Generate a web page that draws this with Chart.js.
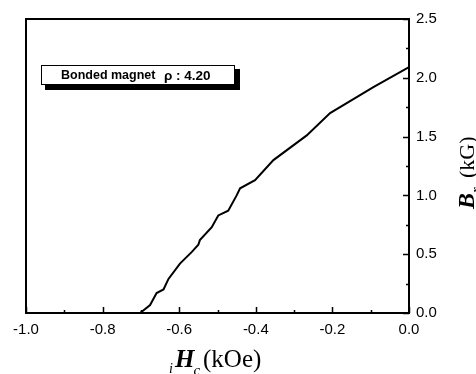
<!DOCTYPE html>
<html>
<head>
<meta charset="UTF-8">
<title>Bonded magnet demagnetization</title>
<script src="https://cdn.jsdelivr.net/npm/chart.js"></script>
<style>
  body { margin: 0; background: #fff; }
  canvas { display: block; }
</style>
</head>
<body>
<canvas id="bhChart" width="476" height="374"></canvas>
<script>
// curve: iHc (kOe) vs Br (kG)
const fieldH = [-0.702, -0.676, -0.659, -0.641, -0.628, -0.598, -0.567, -0.550, -0.546,
                -0.515, -0.498, -0.472, -0.450, -0.441, -0.402, -0.354, -0.267, -0.206,
                -0.093, 0.0];
const inductionB = [0.0, 0.068, 0.17, 0.20, 0.29, 0.42, 0.52, 0.58, 0.62,
                    0.73, 0.83, 0.87, 1.00, 1.06, 1.13, 1.30, 1.51, 1.70,
                    1.92, 2.09];
const xTicks = [-1.0, -0.8, -0.6, -0.4, -0.2, 0.0];
const yTicks = [0.0, 0.5, 1.0, 1.5, 2.0, 2.5];
const legendText = 'Bonded magnet';
const legendRho = '\u03C1 : 4.20';

const points = fieldH.map((h, i) => ({ x: h, y: inductionB[i] }));

function isLabelled(v, list) {
    return list.some(t => Math.abs(t - v) < 1e-6);
}

// frame, inward ticks, legend box and axis titles
const decor = {
    id: 'decor',
    afterDraw(chart) {
        const ctx = chart.ctx;
        const a = chart.chartArea;
        const xs = chart.scales.x, ys = chart.scales.y;
        ctx.save();
        ctx.strokeStyle = '#000';
        ctx.lineWidth = 2;
        ctx.strokeRect(a.left, a.top, a.right - a.left, a.bottom - a.top);

        ctx.lineWidth = 1.5;
        ctx.beginPath();
        xs.ticks.forEach(t => {
            const px = Math.round(xs.getPixelForValue(t.value)) + 0.5;
            const len = isLabelled(t.value, xTicks) ? 6 : 3;
            ctx.moveTo(px, a.bottom);
            ctx.lineTo(px, a.bottom - len);
        });
        ys.ticks.forEach(t => {
            const py = Math.round(ys.getPixelForValue(t.value)) + 0.5;
            const len = isLabelled(t.value, yTicks) ? 6 : 3;
            ctx.moveTo(a.right, py);
            ctx.lineTo(a.right - len, py);
        });
        ctx.stroke();

        // legend box with drop shadow
        ctx.fillStyle = '#000';
        ctx.fillRect(45, 69, 195, 21);
        ctx.fillStyle = '#fff';
        ctx.fillRect(41, 65, 194, 20);
        ctx.lineWidth = 1;
        ctx.strokeRect(41.5, 65.5, 193, 19);
        ctx.fillStyle = '#000';
        ctx.textBaseline = 'middle';
        ctx.font = 'bold 12.5px "Liberation Sans", Arial, sans-serif';
        ctx.fillText(legendText, 61, 76);
        ctx.font = 'bold 13.5px "Liberation Sans", Arial, sans-serif';
        ctx.fillText(legendRho, 164, 76);

        // x title: iHc (kOe)
        ctx.textBaseline = 'alphabetic';
        ctx.font = 'italic 14px "Liberation Serif", "Times New Roman", serif';
        ctx.fillText('i', 169, 373);
        ctx.font = 'bold italic 25px "Liberation Serif", "Times New Roman", serif';
        ctx.fillText('H', 175, 367);
        let w = ctx.measureText('H').width;
        ctx.font = 'italic 15px "Liberation Serif", "Times New Roman", serif';
        ctx.fillText('c', 175 + w - 1, 375);
        ctx.font = '25px "Liberation Serif", "Times New Roman", serif';
        ctx.fillText('(kOe)', 203, 367);

        // y title: Br (kG), rotated
        ctx.translate(474, 209);
        ctx.rotate(-Math.PI / 2);
        ctx.font = 'bold italic 24px "Liberation Serif", "Times New Roman", serif';
        ctx.fillText('B', 0, 0);
        w = ctx.measureText('B').width;
        ctx.font = 'italic 15px "Liberation Serif", "Times New Roman", serif';
        ctx.fillText('r', w, 7);
        ctx.font = '22px "Liberation Serif", "Times New Roman", serif';
        ctx.fillText('(kG)', 31, 0);
        ctx.restore();
    }
};

new Chart(document.getElementById('bhChart'), {
    type: 'scatter',
    data: {
        datasets: [{
            data: points,
            showLine: true,
            borderColor: '#000',
            borderWidth: 2,
            pointRadius: 0,
            tension: 0
        }]
    },
    options: {
        responsive: false,
        animation: false,
        devicePixelRatio: 1,
        layout: { padding: { left: 26, top: 19, right: 0, bottom: 0 } },
        plugins: { legend: { display: false }, tooltip: { enabled: false } },
        scales: {
            x: {
                type: 'linear',
                min: -1,
                max: 0,
                grid: { display: false, drawTicks: false },
                border: { display: false },
                ticks: {
                    stepSize: 0.1,
                    autoSkip: false,
                    maxRotation: 0,
                    padding: 8,
                    color: '#000',
                    font: { family: '"Liberation Sans", Arial, sans-serif', size: 15 },
                    callback: v => isLabelled(v, xTicks) ? v.toFixed(1) : ''
                },
                afterFit: s => { s.height = 61; }
            },
            y: {
                type: 'linear',
                position: 'right',
                min: 0,
                max: 2.5,
                grid: { display: false, drawTicks: false },
                border: { display: false },
                ticks: {
                    stepSize: 0.25,
                    autoSkip: false,
                    padding: 7,
                    color: '#000',
                    font: { family: '"Liberation Sans", Arial, sans-serif', size: 15 },
                    callback: v => isLabelled(v, yTicks) ? v.toFixed(1) : ''
                },
                afterFit: s => { s.width = 67; }
            }
        }
    },
    plugins: [decor]
});
</script>
</body>
</html>
